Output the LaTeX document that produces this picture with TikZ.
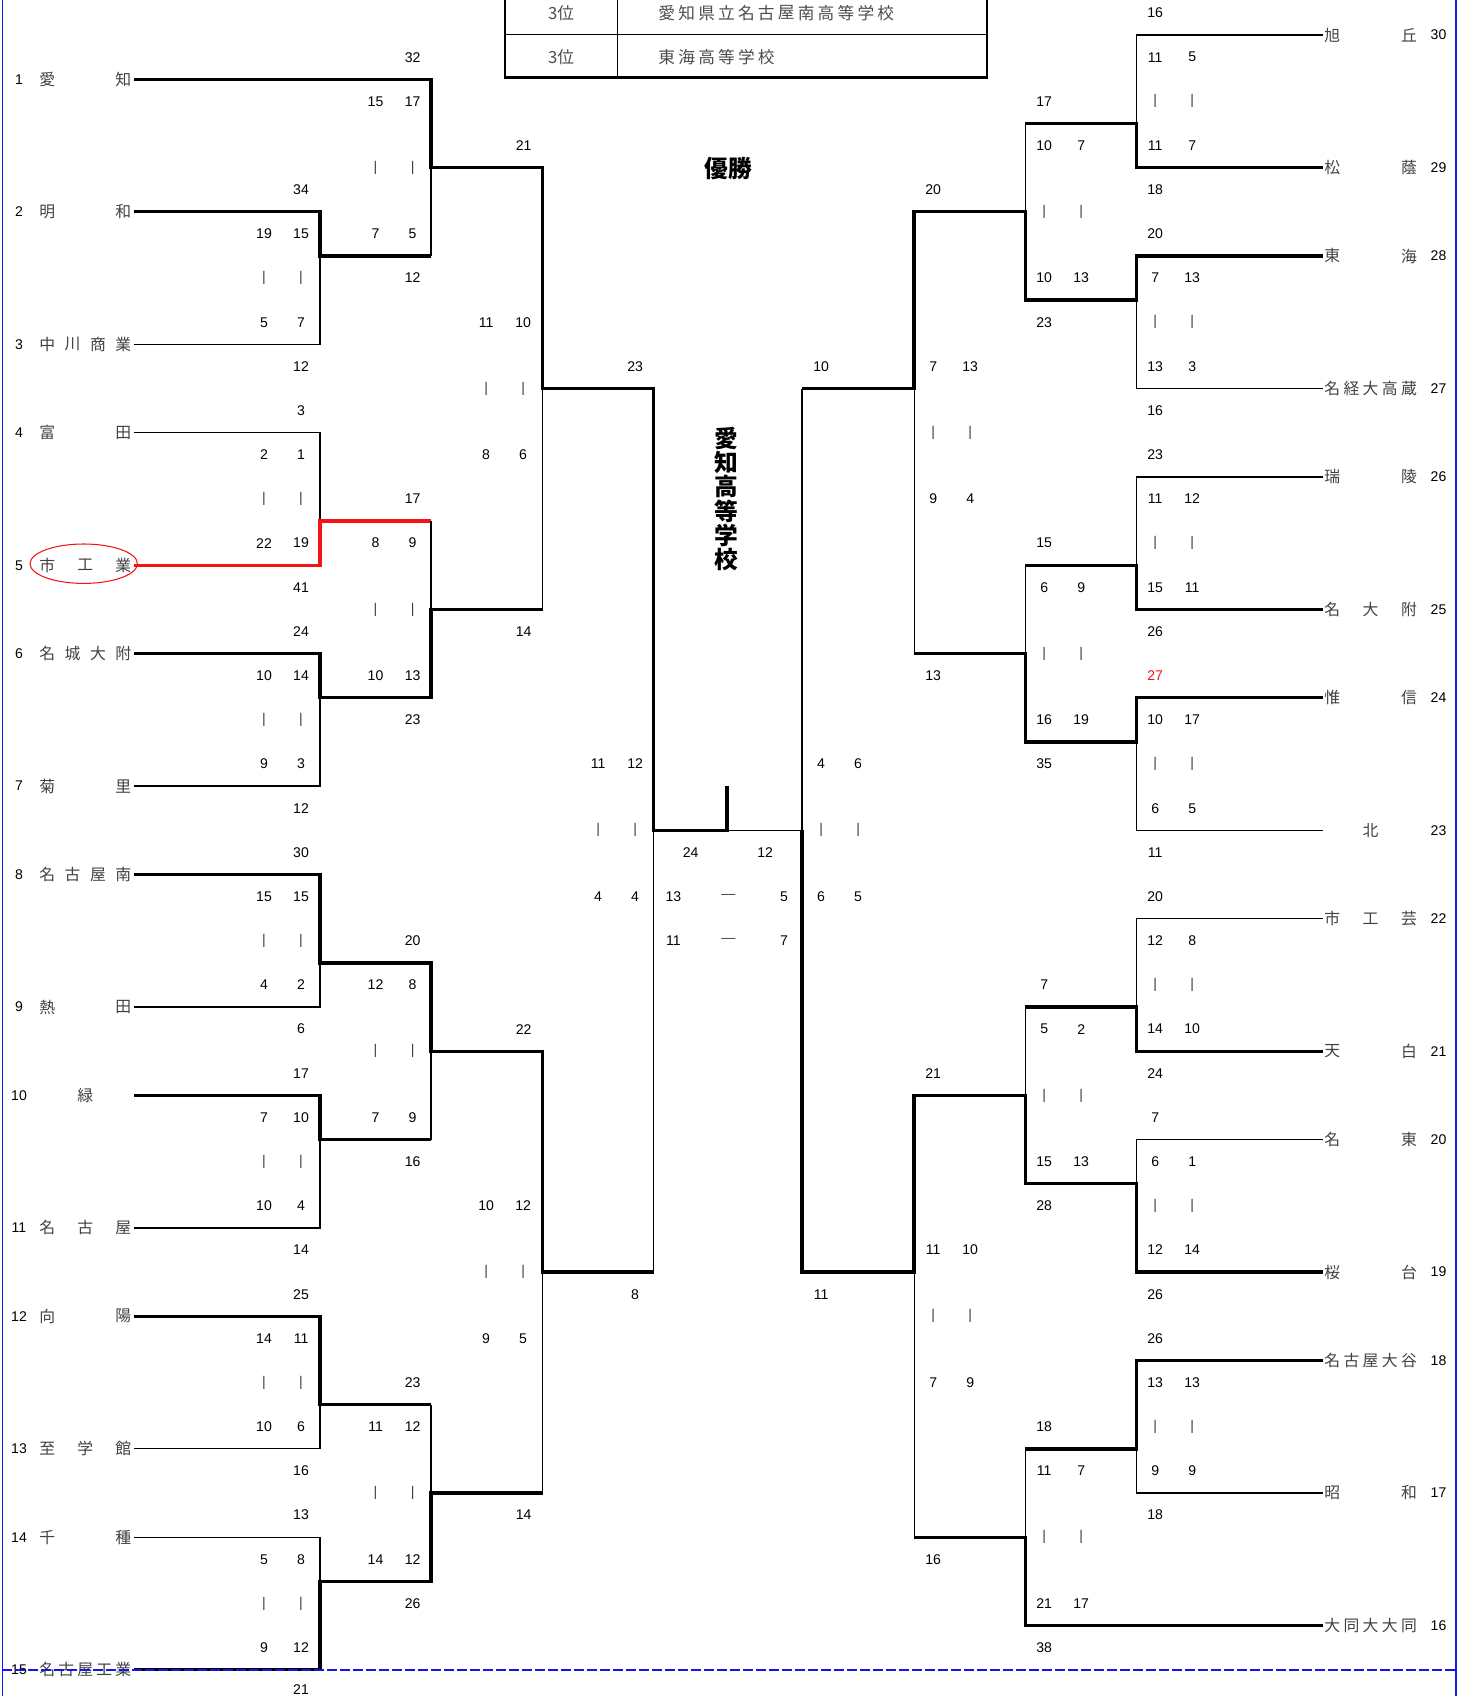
\documentclass[tikz,border=0pt]{standalone}
\usepackage{fontspec}
\setmainfont{Liberation Sans}
\newfontfamily\jpfont{Noto Sans CJK JP}
\definecolor{FrameBlue}{RGB}{20, 20, 235}
\definecolor{MarkRed}{RGB}{245, 20, 20}
\definecolor{NameGray}{RGB}{65, 65, 65}
\usetikzlibrary{positioning}

\begin{document}
\begin{tikzpicture}[
    x=0.02cm, y=-0.4418cm,
    win/.style={line width=1.9pt},
    lose/.style={line width=0.75pt},
    redwin/.style={line width=1.9pt, draw=MarkRed},
    num/.style={inner sep=0pt, font=\fontsize{8}{9}\selectfont},
    barmark/.style={inner sep=0pt, font=\fontsize{8}{9}\selectfont, text=black!75},
    tname/.style={inner sep=0pt, font=\jpfont\fontsize{9}{10}\selectfont, text=NameGray},
    tbltext/.style={inner sep=0pt, font=\jpfont\fontsize{9.5}{11}\selectfont, text=black!70},
    title/.style={inner sep=0pt, font=\jpfont\bfseries\fontsize{13.5}{15}\selectfont},
  ]
  \useasboundingbox (0,-0.5885) rectangle (1466,76.19);

  % Third place table (top edge cut off)
  \draw[line width=1.4pt] (505,-0.8) -- (505,2.93) -- (987,2.93) -- (987,-0.8);
  \draw[line width=0.8pt] (617.3,-0.8) -- (617.3,2.93);
  \draw[line width=0.8pt] (505,0.964) -- (987,0.964);
  \node[tbltext] (rank1) at (561,0) {3位};
  \node[tbltext] (rank2) at (561,1.98) {3位};
  \foreach \ch [count=\k] in {愛,知,県,立,名,古,屋,南,高,等,学,校}
    \node[tbltext] (third1-\k) at ({666.7+(\k-1)*19.9},0) {\ch};
  \foreach \ch [count=\k] in {東,海,高,等,学,校}
    \node[tbltext] (third2-\k) at ({666.7+(\k-1)*19.9},1.98) {\ch};

  % Champion
  \node[title] (champ) at (728.3,7.02) {優勝};
  \foreach \ch [count=\k] in {愛,知,高,等,学,校}
    \node[title] (champ-\k) at (726.7,{19.24+(\k-1)*1.104}) {\ch};

  % Left-hand teams: seed / row / chars / name
  \foreach \sd/\row/\nc/\nm in {1/3/2/{愛,知}, 2/9/2/{明,和}, 3/15/4/{中,川,商,業},
      4/19/2/{富,田}, 5/25/3/{市,工,業}, 6/29/4/{名,城,大,附}, 7/35/2/{菊,里},
      8/39/4/{名,古,屋,南}, 9/45/2/{熱,田}, 10/49/1/{緑}, 11/55/3/{名,古,屋},
      12/59/2/{向,陽}, 13/65/3/{至,学,館}, 14/69/2/{千,種}, 15/75/5/{名,古,屋,工,業}}
  {
    \node[num] (seed\sd) at (19,\row) {\sd};
    \foreach \ch [count=\k] in \nm {
      \pgfmathsetmacro\cx{\nc==1 ? 85.3 : 47.3+(\k-1)*76/max(\nc-1,1)}
      \node[tname] (team\sd-\k) at (\cx,\row) {\ch};
    }
  }

  % Right-hand teams
  \foreach \sd/\row/\nc/\nm in {30/1/2/{旭,丘}, 29/7/2/{松,蔭}, 28/11/2/{東,海},
      27/17/5/{名,経,大,高,蔵}, 26/21/2/{瑞,陵}, 25/27/3/{名,大,附}, 24/31/2/{惟,信},
      23/37/1/{北}, 22/41/3/{市,工,芸}, 21/47/2/{天,白}, 20/51/2/{名,東},
      19/57/2/{桜,台}, 18/61/5/{名,古,屋,大,谷}, 17/67/2/{昭,和}, 16/73/5/{大,同,大,大,同}}
  {
    \node[num] (seed\sd) at (1438.3,\row) {\sd};
    \foreach \ch [count=\k] in \nm {
      \pgfmathsetmacro\cx{\nc==1 ? 1370.3 : 1332+(\k-1)*76.7/max(\nc-1,1)}
      \node[tname] (team\sd-\k) at (\cx,\row) {\ch};
    }
  }

  % Scores: x of pair / x of sum / row top sum / row middle / offset / row bottom sum / values
  \foreach \xa/\xs/\ra/\rmid/\dd/\rz/\sa/\pa/\pb/\qa/\qb/\sz [count=\i] in {
      264/301/8/12/2/16/34/19/15/5/7/12,
      264/301/18/22/2/26/3/2/1/22/19/41,
      264/301/28/32/2/36/24/10/14/9/3/12,
      264/301/38/42/2/46/30/15/15/4/2/6,
      264/301/48/52/2/56/17/7/10/10/4/14,
      264/301/58/62/2/66/25/14/11/10/6/16,
      264/301/68/72/2/75.92/13/5/8/9/12/21,
      375.5/412.5/2/7/3/12/32/15/17/7/5/12,
      375.5/412.5/22/27/3/32/17/8/9/10/13/23,
      375.5/412.5/42/47/3/52/20/12/8/7/9/16,
      375.5/412.5/62/67/3/72/23/11/12/14/12/26,
      486/523.5/6/17/3/28/21/11/10/8/6/14,
      486/523.5/46/57/3/68/22/10/12/9/5/14,
      598/635/16/37/3/58/23/11/12/4/4/8,
      1155/1155/0/4/2/8/16/11/5/11/7/18,
      1155/1155/10/14/2/18/20/7/13/13/3/16,
      1155/1155/20/24/2/28/23/11/12/15/11/26,
      1155/1155/30/34/2/38/{\color{MarkRed}27}/10/17/6/5/11,
      1155/1155/40/44/2/48/20/12/8/14/10/24,
      1155/1155/50/54/2/58/7/6/1/12/14/26,
      1155/1155/60/64/2/68/26/13/13/9/9/18,
      1044/1044/4/9/3/14/17/10/7/10/13/23,
      1044/1044/24/29/3/34/15/6/9/16/19/35,
      1044/1044/44/49/3/54/7/5/2/15/13/28,
      1044/1044/64/69/3/74/18/11/7/21/17/38,
      933/933/8/19/3/30/20/7/13/9/4/13,
      933/933/48/59/3/70/21/11/10/7/9/16,
      821/821/16/37/3/58/10/4/6/6/5/11}
  {
    \node[num] (m\i-top) at (\xs,\ra) {\sa};
    \node[num] (m\i-a1) at (\xa,\rmid-\dd) {\pa};
    \node[num] (m\i-a2) at (\xa+37,\rmid-\dd) {\pb};
    \node[barmark] (m\i-v1) at (\xa,\rmid) {|};
    \node[barmark] (m\i-v2) at (\xa+37,\rmid) {|};
    \node[num] (m\i-b1) at (\xa,\rmid+\dd) {\qa};
    \node[num] (m\i-b2) at (\xa+37,\rmid+\dd) {\qb};
    \node[num] (m\i-bot) at (\xs,\rz) {\sz};
  }

  % Final score
  \node[num] (fin-l) at (690.5,38) {24};
  \node[num] (fin-r) at (765,38) {12};
  \node[num] (fin-l1) at (673.3,40) {13};
  \node[barmark] (fin-d1) at (728.3,40) {—};
  \node[num] (fin-r1) at (784,40) {5};
  \node[num] (fin-l2) at (673.3,42) {11};
  \node[barmark] (fin-d2) at (728.3,42) {—};
  \node[num] (fin-r2) at (784,42) {7};

  % Left half of the bracket
  \draw[win] (134,3) -| (431,7) -| (542.5,17) -| (653.5,37) -- (727,37) -- (727,35);
  \draw[win] (134,9) -| (320,11) -- (431,11);
  \draw[lose] (134,15) -| (320,11);
  \draw[lose] (431,7) -- (431,11);
  \draw[lose] (134,19) -| (320,23);
  \draw[redwin] (134,25) -| (320,23) -- (431,23);
  \draw[lose] (431,23) -- (431,27);
  \draw[win] (134,29) -| (320,31) -- (431,31) |- (542.5,27);
  \draw[lose] (134,35) -| (320,31);
  \draw[lose] (542.5,17) -- (542.5,27);
  \draw[win] (134,39) -| (320,43) -- (431,43) |- (542.5,47) |- (653.5,57);
  \draw[lose] (134,45) -| (320,43);
  \draw[win] (134,49) -| (320,51) -- (431,51);
  \draw[lose] (134,55) -| (320,51);
  \draw[lose] (431,47) -- (431,51);
  \draw[win] (134,59) -| (320,63) -- (431,63);
  \draw[lose] (134,65) -| (320,63);
  \draw[lose] (431,63) -- (431,67);
  \draw[lose] (134,69) -| (320,71);
  \draw[win] (134,75) -| (320,71) -- (431,71) |- (542.5,67);
  \draw[lose] (542.5,57) -- (542.5,67);
  \draw[lose] (653.5,37) -- (653.5,57);

  % Right half of the bracket
  \draw[lose] (1322.7,1) -| (1136,5);
  \draw[win] (1322.7,7) -| (1136,5) -- (1025,5);
  \draw[lose] (1025,5) -- (1025,9);
  \draw[win] (1322.7,11) -| (1136,13) -- (1025,13) |- (914,9) |- (802,17);
  \draw[lose] (1322.7,17) -| (1136,13);
  \draw[lose] (802,17) -- (802,37) -- (727,37);
  \draw[lose] (1322.7,21) -| (1136,25);
  \draw[win] (1322.7,27) -| (1136,25) -- (1025,25);
  \draw[lose] (1025,25) -- (1025,29);
  \draw[win] (1322.7,31) -| (1136,33) -- (1025,33) |- (914,29);
  \draw[lose] (1322.7,37) -| (1136,33);
  \draw[lose] (914,17) -- (914,29);
  \draw[lose] (1322.7,41) -| (1136,45);
  \draw[win] (1322.7,47) -| (1136,45) -- (1025,45);
  \draw[lose] (1025,45) -- (1025,49);
  \draw[lose] (1322.7,51) -| (1136,53);
  \draw[win] (1322.7,57) -| (1136,53) -- (1025,53) |- (914,49) |- (802,57) -- (802,37);
  \draw[win] (1322.7,61) -| (1136,65) -- (1025,65);
  \draw[lose] (1322.7,67) -| (1136,65);
  \draw[lose] (1025,65) -- (1025,69);
  \draw[win] (1322.7,73) -| (1025,69) -- (914,69);
  \draw[lose] (914,57) -- (914,69);

  % Mark round the city school
  \draw[MarkRed, line width=0.6pt] (83.7,24.93) ellipse [x radius=1.074cm, y radius=0.394cm];

  % Page frame and page break
  \draw[FrameBlue, line width=0.7pt] (2.3,-0.8) -- (2.3,76.4);
  \draw[FrameBlue, line width=1.2pt] (1456,-0.8) -- (1456,76.4);
  \draw[FrameBlue, line width=1.1pt, dash pattern=on 0.19cm off 0.07cm] (2.3,75) -- (1456,75);
\end{tikzpicture}
\end{document}
